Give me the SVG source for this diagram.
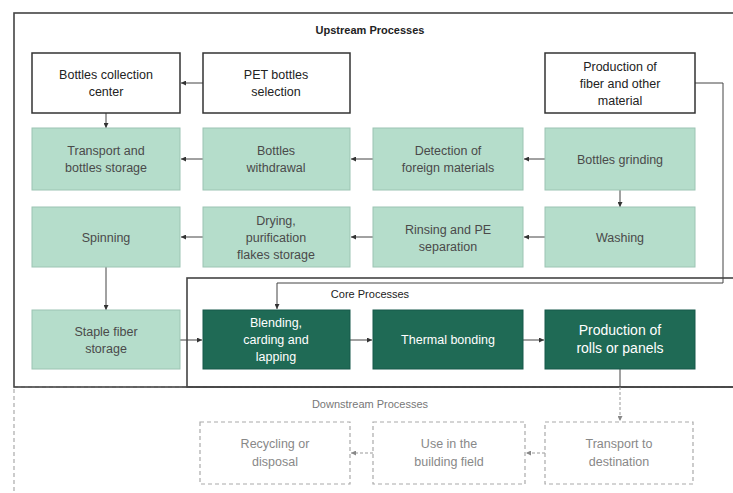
<svg xmlns="http://www.w3.org/2000/svg" width="733" height="493" viewBox="0 0 733 493">
  <defs>
    <marker id="arr" viewBox="0 0 6 6" refX="6" refY="3" markerWidth="5" markerHeight="5" orient="auto" markerUnits="userSpaceOnUse">
      <path d="M0,0 L6,3 L0,6 Z" fill="#333"/>
    </marker>
    <marker id="arrGrey" viewBox="0 0 6 6" refX="6" refY="3" markerWidth="5" markerHeight="5" orient="auto" markerUnits="userSpaceOnUse">
      <path d="M0,0 L6,3 L0,6 Z" fill="#888"/>
    </marker>
    <style>
      text { font-family: "Liberation Sans", Arial, sans-serif; font-size: 12.5px; text-anchor: middle; }
      .frame { fill: none; stroke: #444; stroke-width: 1.6; }
      .frameDash { fill: none; stroke: #aaa; stroke-width: 1.2; stroke-dasharray: 4 3; }
      .white rect { fill: #fff; stroke: #333; stroke-width: 1.5; }
      .white text { fill: #222; }
      .light rect { fill: #b5ddcb; stroke: #9cc4b3; stroke-width: 1; }
      .light text { fill: #4a4a4a; }
      .dark rect { fill: #1f6a55; stroke: #17594a; stroke-width: 1; }
      .dark text { fill: #fff; }
      .down rect { fill: #fff; stroke: #aaa; stroke-width: 1.2; stroke-dasharray: 4 3; }
      .down text { fill: #888; }
      .title { font-size: 11px; fill: #222; }
      .conn { fill: none; stroke: #444; stroke-width: 1; marker-end: url(#arr); }
      .connGrey { fill: none; stroke: #999; stroke-width: 1; stroke-dasharray: 3 2; marker-end: url(#arrGrey); }
    </style>
  </defs>

  <rect width="733" height="493" fill="#fff"/>

  <!-- process stage frames -->
  <g id="stage-frames">
    <rect class="frameDash" x="14" y="387" width="730" height="120"/>
    <rect class="frame" x="14" y="13" width="730" height="374"/>
    <rect class="frame" x="187" y="278" width="557" height="109"/>
    <text class="title" x="370" y="34" font-weight="bold">Upstream Processes</text>
    <text class="title" x="370" y="298">Core Processes</text>
    <text class="title" x="370" y="408" fill="#777" style="fill:#777">Downstream Processes</text>
  </g>

  <!-- connectors -->
  <g id="connectors">
    <line class="conn" x1="203" y1="83" x2="181" y2="83"/>
    <line class="conn" x1="106" y1="113" x2="106" y2="128"/>
    <line class="conn" x1="203" y1="159" x2="181" y2="159"/>
    <line class="conn" x1="373" y1="159" x2="351" y2="159"/>
    <line class="conn" x1="545" y1="159" x2="524" y2="159"/>
    <line class="conn" x1="620" y1="190" x2="620" y2="207"/>
    <line class="conn" x1="545" y1="237" x2="524" y2="237"/>
    <line class="conn" x1="373" y1="237" x2="351" y2="237"/>
    <line class="conn" x1="203" y1="237" x2="181" y2="237"/>
    <line class="conn" x1="106" y1="267" x2="106" y2="310"/>
    <line class="conn" x1="180" y1="340" x2="202" y2="340"/>
    <line class="conn" x1="350" y1="340" x2="372" y2="340"/>
    <line class="conn" x1="523" y1="340" x2="544" y2="340"/>
    <polyline class="conn" points="695,83 723,83 723,283 277,283 277,309"/>
    <line x1="620" y1="369" x2="620" y2="387" stroke="#444" stroke-width="1"/>
    <line class="connGrey" x1="620" y1="387" x2="620" y2="421"/>
    <line class="connGrey" x1="545" y1="453" x2="526" y2="453"/>
    <line class="connGrey" x1="373" y1="453" x2="351" y2="453"/>
  </g>

  <!-- upstream nodes -->
  <g id="bottles-collection-center" class="white">
    <rect x="32" y="53" width="148" height="60"/>
    <text x="106" y="79">Bottles collection</text>
    <text x="106" y="96">center</text>
  </g>
  <g id="pet-bottles-selection" class="white">
    <rect x="203" y="53" width="147" height="60"/>
    <text x="276" y="79">PET bottles</text>
    <text x="276" y="96">selection</text>
  </g>
  <g id="production-of-fiber" class="white">
    <rect x="545" y="53" width="150" height="60"/>
    <text x="620" y="71">Production of</text>
    <text x="620" y="88">fiber and other</text>
    <text x="620" y="105">material</text>
  </g>

  <g id="transport-storage" class="light">
    <rect x="32" y="128" width="148" height="62"/>
    <text x="106" y="155">Transport and</text>
    <text x="106" y="172">bottles storage</text>
  </g>
  <g id="bottles-withdrawal" class="light">
    <rect x="203" y="128" width="147" height="62"/>
    <text x="276" y="155">Bottles</text>
    <text x="276" y="172">withdrawal</text>
  </g>
  <g id="detection-foreign" class="light">
    <rect x="373" y="128" width="150" height="62"/>
    <text x="448" y="155">Detection of</text>
    <text x="448" y="172">foreign materials</text>
  </g>
  <g id="bottles-grinding" class="light">
    <rect x="545" y="128" width="150" height="62"/>
    <text x="620" y="164">Bottles grinding</text>
  </g>

  <g id="spinning" class="light">
    <rect x="32" y="207" width="148" height="60"/>
    <text x="106" y="242">Spinning</text>
  </g>
  <g id="drying-purification" class="light">
    <rect x="203" y="207" width="147" height="60"/>
    <text x="276" y="225">Drying,</text>
    <text x="276" y="242">purification</text>
    <text x="276" y="259">flakes storage</text>
  </g>
  <g id="rinsing-pe-separation" class="light">
    <rect x="373" y="207" width="150" height="60"/>
    <text x="448" y="234">Rinsing and PE</text>
    <text x="448" y="251">separation</text>
  </g>
  <g id="washing" class="light">
    <rect x="545" y="207" width="150" height="60"/>
    <text x="620" y="242">Washing</text>
  </g>

  <g id="staple-fiber-storage" class="light">
    <rect x="32" y="310" width="148" height="59"/>
    <text x="106" y="336">Staple fiber</text>
    <text x="106" y="353">storage</text>
  </g>

  <!-- core nodes -->
  <g id="blending-carding-lapping" class="dark">
    <rect x="203" y="310" width="147" height="59"/>
    <text x="276" y="327">Blending,</text>
    <text x="276" y="344">carding and</text>
    <text x="276" y="361">lapping</text>
  </g>
  <g id="thermal-bonding" class="dark">
    <rect x="373" y="310" width="150" height="59"/>
    <text x="448" y="344">Thermal bonding</text>
  </g>
  <g id="production-rolls-panels" class="dark">
    <rect x="545" y="310" width="150" height="59"/>
    <text x="620" y="335" font-size="14" style="font-size:14px">Production of</text>
    <text x="620" y="353" style="font-size:14px">rolls or panels</text>
  </g>

  <!-- downstream nodes -->
  <g id="recycling-disposal" class="down">
    <rect x="200" y="422" width="150" height="62"/>
    <text x="275" y="448">Recycling or</text>
    <text x="275" y="466">disposal</text>
  </g>
  <g id="use-building-field" class="down">
    <rect x="373" y="422" width="152" height="62"/>
    <text x="449" y="448">Use in the</text>
    <text x="449" y="466">building field</text>
  </g>
  <g id="transport-destination" class="down">
    <rect x="545" y="422" width="148" height="62"/>
    <text x="619" y="448">Transport to</text>
    <text x="619" y="466">destination</text>
  </g>
</svg>
